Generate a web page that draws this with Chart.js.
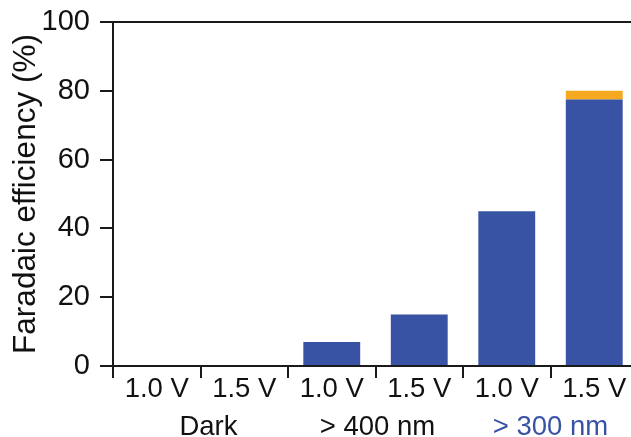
<!DOCTYPE html>
<html lang="en">
<head>
	<meta charset="utf-8">
	<title>Faradaic efficiency</title>
	<script src="https://cdn.jsdelivr.net/npm/chart.js@4.4.1/dist/chart.umd.min.js"></script>
	<style>
		html, body { margin: 0; padding: 0; background: #fff; overflow: hidden; }
		#wrap { width: 645px; height: 437px; }
	</style>
</head>
<body>
	<div id="wrap"><canvas id="feChart"></canvas></div>
	<script>
    // data
    var voltages = ["1.0 V", "1.5 V", "1.0 V", "1.5 V", "1.0 V", "1.5 V"];
    var groups = ["Dark", "> 400 nm", "> 300 nm"];
    var groupColors = ["#111111", "#111111", "#3953a4"];
    var feMain = [0, 0, 7, 15, 45, 77.5];
    var feTop = [0, 0, 0, 0, 0, 2.5];
    var yTicks = [0, 20, 40, 60, 80, 100];

    var ink = "#1a1a1a";
    var fontFam = "'Liberation Sans', Arial, sans-serif";
    var groupNudge = [8, 2, 0]; // small horizontal shifts of the group captions

    var groupLabels = {
    	id: 'groupLabels',
    	afterDraw: function (chart) {
    		var ctx = chart.ctx;
    		var xs = chart.scales.x;
    		ctx.save();
    		ctx.font = "27.5px " + fontFam;
    		ctx.textAlign = "center";
    		ctx.textBaseline = "middle";
    		for (var i = 0; i < groups.length; i++) {
    			var x = (xs.getPixelForValue(2 * i) + xs.getPixelForValue(2 * i + 1)) / 2 + groupNudge[i];
    			ctx.fillStyle = groupColors[i];
    			ctx.fillText(groups[i], x, chart.chartArea.bottom + 61);
    		}
    		ctx.restore();
    	}
    };

    new Chart(document.getElementById("feChart"), {
    	type: 'bar',
    	data: {
    		labels: voltages,
    		datasets: [{
    			data: feMain,
    			backgroundColor: "#3953a4",
    			barPercentage: 0.65,
    			categoryPercentage: 1
    		}, {
    			data: feTop,
    			backgroundColor: "#f6a81e",
    			barPercentage: 0.65,
    			categoryPercentage: 1
    		}]
    	},
    	options: {
    		responsive: true,
    		maintainAspectRatio: false,
    		animation: false,
    		layout: { padding: { top: 22, right: 7, left: 0, bottom: 0 } },
    		plugins: { legend: { display: false }, tooltip: { enabled: false } },
    		scales: {
    			x: {
    				stacked: true,
    				grid: { offset: true, drawOnChartArea: false, drawTicks: true, tickLength: 12, color: ink, lineWidth: 2 },
    				border: { color: ink, width: 2 },
    				ticks: { color: "#111", padding: -2, font: { size: 27.5, family: fontFam, lineHeight: 1 }, maxRotation: 0, autoSkip: false },
    				afterFit: function (s) { s.height = 71; }
    			},
    			x2: {
    				position: 'top',
    				type: 'category',
    				grid: { display: false },
    				border: { color: ink, width: 2 },
    				ticks: { display: false },
    				afterFit: function (s) { s.height = 0; }
    			},
    			y: {
    				stacked: true,
    				min: 0,
    				max: 100,
    				afterBuildTicks: function (s) { s.ticks = yTicks.map(function (v) { return { value: v }; }); },
    				grid: { drawOnChartArea: false, drawTicks: true, tickLength: 13, color: ink, lineWidth: 2 },
    				border: { color: ink, width: 2 },
    				ticks: { color: "#111", padding: 10, font: { size: 29, family: fontFam, lineHeight: 0.6 } },
    				title: { display: true, text: "Faradaic efficiency (%)", color: "#111", padding: { top: 7, bottom: 0 }, font: { size: 31.5, family: fontFam } },
    				afterFit: function (s) { s.width = 113; }
    			}
    		}
    	},
    	plugins: [groupLabels]
    });
	</script>
</body>
</html>
